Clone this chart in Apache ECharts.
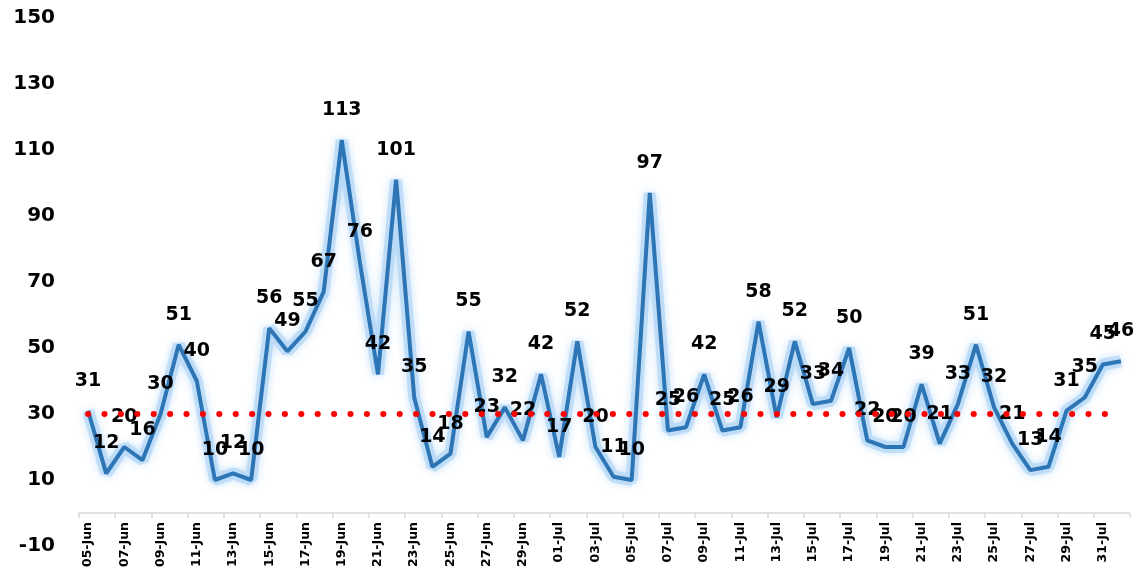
<!DOCTYPE html>
<html>
<head>
<meta charset="utf-8">
<script src="https://cdn.jsdelivr.net/npm/echarts@6/dist/echarts.min.js"></script>
<style>
html,body{margin:0;padding:0;background:#fff;}
#chart{width:1140px;height:567px;}
</style>
</head>
<body>
<div id="chart"></div>
<script>
var categories = ["05-Jun","06-Jun","07-Jun","08-Jun","09-Jun","10-Jun","11-Jun","12-Jun","13-Jun","14-Jun","15-Jun","16-Jun","17-Jun","18-Jun","19-Jun","20-Jun","21-Jun","22-Jun","23-Jun","24-Jun","25-Jun","26-Jun","27-Jun","28-Jun","29-Jun","30-Jun","01-Jul","02-Jul","03-Jul","04-Jul","05-Jul","06-Jul","07-Jul","08-Jul","09-Jul","10-Jul","11-Jul","12-Jul","13-Jul","14-Jul","15-Jul","16-Jul","17-Jul","18-Jul","19-Jul","20-Jul","21-Jul","22-Jul","23-Jul","24-Jul","25-Jul","26-Jul","27-Jul","28-Jul","29-Jul","30-Jul","31-Jul","01-Aug"];
var values = [31,12,20,16,30,51,40,10,12,10,56,49,55,67,113,76,42,101,35,14,18,55,23,32,22,42,17,52,20,11,10,97,25,26,42,25,26,58,29,52,33,34,50,22,20,20,39,21,33,51,32,21,13,14,31,35,45,46];
var averageLevel = 30;
var yTicks = { min: -10, max: 150, interval: 20 };

var chart = echarts.init(document.getElementById('chart'));
chart.setOption({
  animation: false,
  grid: { left: 79, right: 10, top: 18, bottom: 21, containLabel: false, outerBoundsMode: 'none' },
  xAxis: {
    type: 'category',
    data: categories,
    boundaryGap: true,
    axisLine: { onZero: true, lineStyle: { color: '#d9d9d9', width: 1.5 } },
    axisTick: { show: true, interval: 1, length: 5, lineStyle: { color: '#d9d9d9', width: 1.5 } },
    axisLabel: {
      interval: 1, rotate: 90, margin: -24,
      fontFamily: 'DejaVu Sans', fontWeight: 'bold', fontSize: 12.5, color: '#000'
    },
    splitLine: { show: false }
  },
  yAxis: {
    type: 'value',
    min: yTicks.min, max: yTicks.max, interval: yTicks.interval,
    axisLine: { show: false },
    axisTick: { show: false },
    splitLine: { show: false },
    axisLabel: {
      margin: 24,
      fontFamily: 'DejaVu Sans', fontWeight: 'bold', fontSize: 20, color: '#000'
    }
  },
  series: [{
    type: 'line',
    data: values,
    symbol: 'none',
    silent: true,
    z: 1,
    lineStyle: {
      color: 'rgba(170,210,245,0.6)', width: 12,
      shadowColor: 'rgba(160,205,245,0.9)', shadowBlur: 8
    }
  }, {
    type: 'line',
    data: values,
    symbol: 'circle',
    symbolSize: 1,
    showSymbol: true,
    z: 3,
    itemStyle: { color: 'rgba(0,0,0,0)' },
    lineStyle: { color: '#2E75B6', width: 4 },
    label: {
      show: true, position: 'top', distance: 20,
      fontFamily: 'DejaVu Sans', fontWeight: 'bold', fontSize: 19, color: '#000'
    },
    markLine: {
      silent: true,
      symbol: 'none',
      label: { show: false },
      lineStyle: { color: '#FF0000', width: 6, type: [0.1, 16.3], cap: 'round', opacity: 1 },
      emphasis: { disabled: true },
      data: [[{ coord: [0, averageLevel] }, { coord: [categories.length - 1, averageLevel] }]]
    }
  }]
});
</script>
</body>
</html>
